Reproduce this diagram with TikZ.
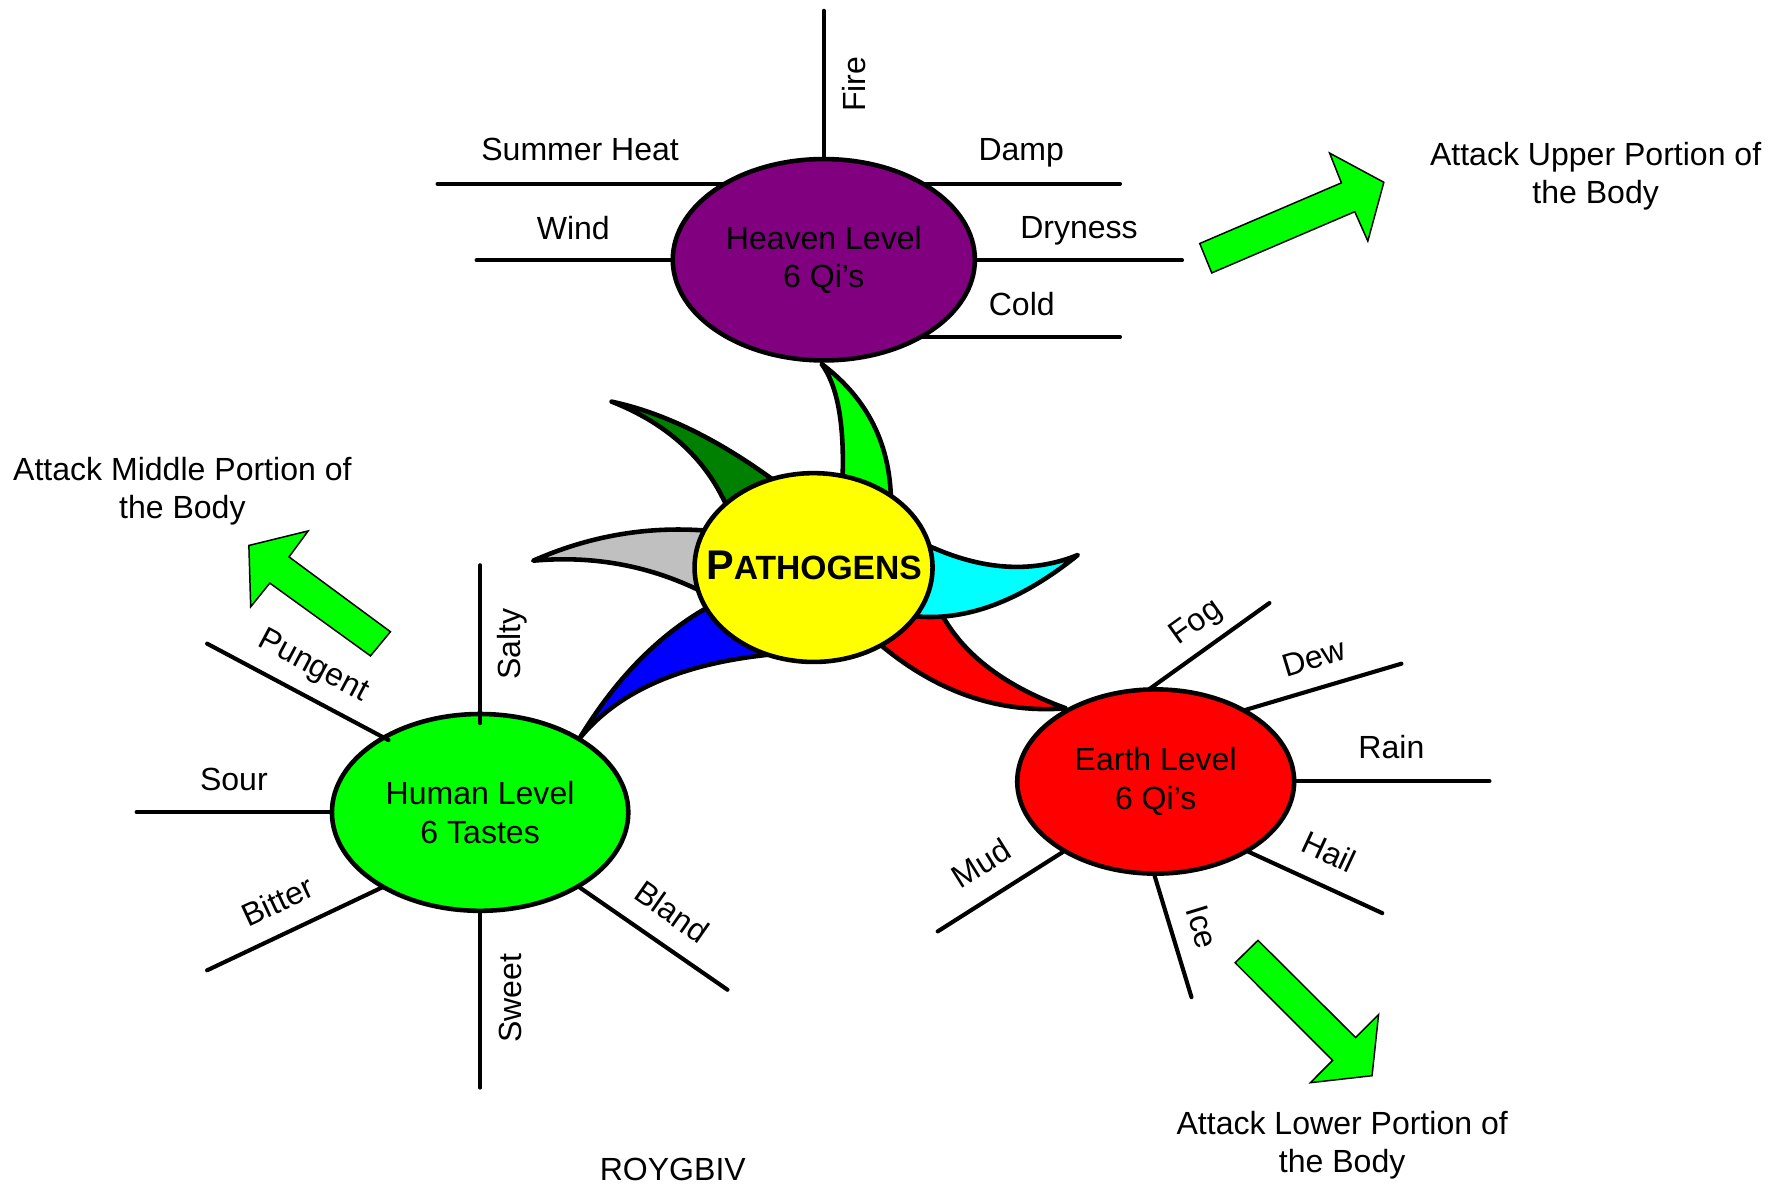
\documentclass[tikz,border=0pt]{standalone}
\usepackage{fontspec}
\setmainfont{Liberation Sans}
\usetikzlibrary{shapes.geometric}
\pgfdeclarelayer{bg}
\pgfsetlayers{bg,main}
\definecolor{cpurple}{HTML}{800080}
\definecolor{cyellow}{HTML}{FFFF00}
\definecolor{cgreen}{HTML}{00FF00}
\definecolor{cred}{HTML}{FF0000}
\definecolor{cdkgreen}{HTML}{008000}
\definecolor{cgray}{HTML}{C0C0C0}
\definecolor{ccyan}{HTML}{00FFFF}
\definecolor{cblue}{HTML}{0000FF}
\newcommand{\mylblfont}{\fontsize{28}{33.6}\selectfont}
\begin{document}
\begin{tikzpicture}[x=1pt,y=-1pt,
  lbl/.style={font=\mylblfont, inner sep=0pt, text height=20pt, text depth=0pt},
  note/.style={font=\mylblfont, inner sep=0pt, align=center},
  lvl/.style={ellipse, draw=black, line width=4pt, inner sep=0pt, font=\mylblfont, align=center},
  spoke/.style={draw=black, line width=3.6pt, line cap=round},
  petal/.style={draw=black, line width=4pt, line join=round},
  blockarrow/.style={draw=black, fill=cgreen, line width=1.3pt, line join=miter}]
\useasboundingbox (0,0) rectangle (1560,1034);

% ---------- level ellipses ----------
\node[lvl, fill=cpurple, minimum width=264pt, minimum height=176pt] (heaven) at (720,227) {Heaven Level\\6 Qi’s};
\node[lvl, fill=cgreen, minimum width=259pt, minimum height=172pt] (human) at (419.6,710) {Human Level\\6 Tastes};
\node[lvl, fill=cred, minimum width=242pt, minimum height=161pt] (earth) at (1010,683) {Earth Level\\6 Qi’s};
\node[ellipse, draw=black, line width=4pt, inner sep=0pt, fill=cyellow, minimum width=208pt, minimum height=165pt] (patho) at (711,496) {};
\node[inner sep=0pt, font=\bfseries] (pathotext) at (711.4,494) {{\fontsize{36.2}{40}\selectfont P}{\fontsize{29.4}{35}\selectfont ATHOGENS}};

% ---------- petals (behind) ----------
\begin{pgfonlayer}{bg}
  % red
  \filldraw[petal, fill=cred] (752,549.2) -- (771.6,565.3)
     .. controls (820.9,605.7) and (874.2,623.6) .. (931.5,619)
     .. controls (881.8,601) and (846.9,575.8) .. (826.8,543.4)
     -- (815,524.4) -- cycle;
  % cyan
  \filldraw[petal, fill=ccyan] (790,468) -- (816.8,479.3)
     .. controls (862,498.7) and (903.7,500.6) .. (942,485)
     .. controls (894.3,523.5) and (848.7,541.5) .. (805,539)
     -- (780,537.6) -- cycle;
  % bright green (top)
  \filldraw[petal, fill=cgreen] (735.5,440) -- (736.5,412.3)
     .. controls (737.5,367.4) and (731.3,336) .. (718,318)
     .. controls (755.3,346) and (775.4,382.8) .. (778.3,428.3)
     -- (780,455) -- cycle;
  % dark green
  \filldraw[petal, fill=cdkgreen] (642,456) -- (631.6,435)
     .. controls (612.5,397) and (580.2,369) .. (534.5,351)
     .. controls (578.2,360.3) and (623.9,382.2) .. (671.7,416.5)
     -- (695,433) -- cycle;
  % gray
  \filldraw[petal, fill=cgray] (630,524.4) -- (604.4,512.8)
     .. controls (561.2,493.2) and (515.1,485.6) .. (466,490)
     .. controls (512.9,469.3) and (561.2,460.4) .. (611,463.3)
     -- (635,464.7) -- cycle;
  % blue
  \filldraw[petal, fill=cblue] (640,518) -- (614.3,533.2)
     .. controls (572.8,557.7) and (536.7,595.3) .. (506,646)
     .. controls (538.6,605.5) and (592.5,581.1) .. (667.8,572.6)
     -- (690,570) -- cycle;

  % ---------- spokes of Heaven ----------
  \coordinate (cFire) at (720,9.4);
  \coordinate (cSummer) at (382.4,160.6);
  \coordinate (cDamp) at (978.8,160.6);
  \coordinate (cWind) at (416.5,227.5);
  \coordinate (cDry) at (1033,227.5);
  \coordinate (cCold) at (978.8,294.4);
  \draw[spoke] (cFire) -- (heaven.center);
  \draw[spoke] (cSummer) -- (cSummer -| heaven.center);
  \draw[spoke] (cDamp) -- (cDamp -| heaven.center);
  \draw[spoke] (cWind) -- (cWind -| heaven.center);
  \draw[spoke] (cDry) -- (cDry -| heaven.center);
  \draw[spoke] (cCold) -- (cCold -| heaven.center);

  % ---------- spokes of Human ----------
  \coordinate (cSour) at (119.4,709.7);
  \coordinate (cBitter) at (181,848);
  \coordinate (cBitterIn) at (355,765.6);
  \coordinate (cSweet) at (419.6,950.5);
  \coordinate (cBland) at (635.8,865);
  \coordinate (cBlandIn) at (487,762);
  \draw[spoke] (cSour) -- (cSour -| human.center);
  \draw[spoke] (cBitter) -- (cBitterIn);
  \draw[spoke] (cSweet) -- (human.center);
  \draw[spoke] (cBland) -- (cBlandIn);

  % ---------- spokes of Earth ----------
  \coordinate (cFog) at (1109.4,527);
  \coordinate (cFogIn) at (995,609);
  \coordinate (cDew) at (1224.8,580);
  \coordinate (cDewIn) at (1073,625);
  \coordinate (cRain) at (1301.7,682.6);
  \coordinate (cHail) at (1208,798);
  \coordinate (cHailIn) at (1075,737);
  \coordinate (cIce) at (1041.3,871.5);
  \coordinate (cIceIn) at (1005,752);
  \coordinate (cMud) at (819.5,814);
  \coordinate (cMudIn) at (944,735);
  \draw[spoke] (cFog) -- (cFogIn);
  \draw[spoke] (cDew) -- (cDewIn);
  \draw[spoke] (cRain) -- (cRain -| earth.center);
  \draw[spoke] (cHail) -- (cHailIn);
  \draw[spoke] (cIce) -- (cIceIn);
  \draw[spoke] (cMud) -- (cMudIn);
\end{pgfonlayer}

% spokes that overlap the Human ellipse border
\coordinate (cSalty) at (419.6,494);
\coordinate (cSaltyIn) at (419.6,632);
\coordinate (cPungent) at (181,562.5);
\coordinate (cPungentIn) at (339.5,646.8);
\draw[spoke] (cSalty) -- (cSaltyIn);
\draw[spoke] (cPungent) -- (cPungentIn);

% ---------- labels ----------
\node[lbl, rotate=90] (lfire) at (746,73.6) {Fire};
\node[lbl] (lsummer) at (507,130.5) {Summer Heat};
\node[lbl] (ldamp) at (892.5,130.5) {Damp};
\node[lbl] (lwind) at (501,199) {Wind};
\node[lbl] (ldry) at (943,198.5) {Dryness};
\node[lbl] (lcold) at (893,266) {Cold};

\node[lbl, rotate=90] (lsalty) at (445,563) {Salty};
\node[lbl, rotate=-28] (lpungent) at (275,580) {Pungent};
\node[lbl] (lsour) at (204.4,681) {Sour};
\node[lbl, rotate=25] (lbitter) at (242.5,787.3) {Bitter};
\node[lbl, rotate=90] (lsweet) at (445.6,872.6) {Sweet};
\node[lbl, rotate=-35] (lbland) at (587.4,796.7) {Bland};

\node[lbl, rotate=35.5] (lfog) at (1044,542) {Fog};
\node[lbl, rotate=17] (ldew) at (1148,574) {Dew};
\node[lbl] (lrain) at (1216,653) {Rain};
\node[lbl, rotate=-25] (lhail) at (1161.6,744.5) {Hail};
\node[lbl, rotate=-73] (lice) at (1051,810) {Ice};
\node[lbl, rotate=32] (lmud) at (857.3,754.5) {Mud};

% ---------- block arrows ----------
\filldraw[blockarrow] (1059,238.5) -- (1048.5,212.8) -- (1172.3,159.8) -- (1162,133.8)
   -- (1209.4,159.3) -- (1195.4,210.7) -- (1184,185) -- cycle;
\filldraw[blockarrow] (217.5,476.7) -- (269.3,464) -- (252.6,486.7) -- (341.2,552.1)
   -- (323.8,573.2) -- (235.8,509.6) -- (219.1,530.3) -- cycle;
\filldraw[blockarrow] (1099.4,821.8) -- (1184.7,906.7) -- (1204.8,886.6) -- (1199.1,940.1)
   -- (1145.2,946.2) -- (1164.6,926.7) -- (1079.4,841.4) -- cycle;

% ---------- notes ----------
\node[note] (nupper) at (1394.5,154.2) {Attack Upper Portion of\\the Body};
\node[note] (nmiddle) at (159.4,429.3) {Attack Middle Portion of\\the Body};
\node[note] (nlower) at (1173,1000.8) {Attack Lower Portion of\\the Body};
\node[lbl] (roy) at (588,1021.4) {ROYGBIV};
\end{tikzpicture}
\end{document}
